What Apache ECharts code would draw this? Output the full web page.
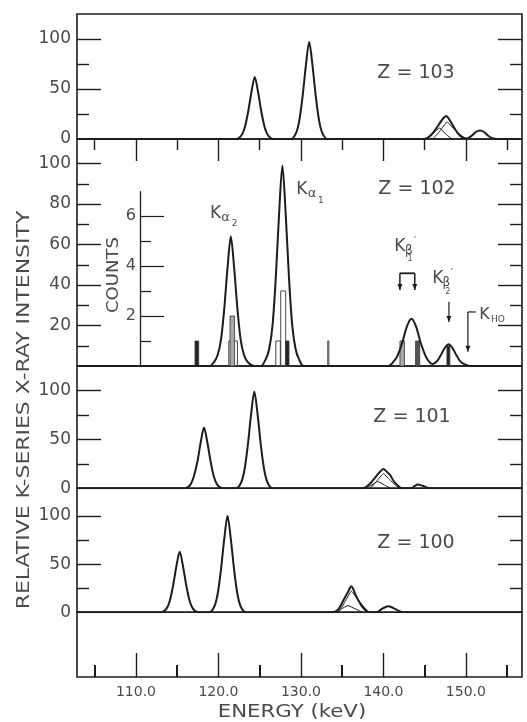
<!DOCTYPE html>
<html>
<head>
<meta charset="utf-8">
<title>Relative K-series X-ray intensity</title>
<script src="https://cdn.jsdelivr.net/npm/echarts@6.0.0/dist/echarts.min.js"></script>
<style>
html,body{margin:0;padding:0;background:#fff;}
#chart{width:527px;height:722px;}
</style>
</head>
<body>
<div id="chart"></div>
<script>
// ---------------- values ----------------
const energyTicksMajor = [110, 120, 130, 140, 150];
const energyTicksHalf = [105, 115, 125, 135, 145, 155];
const intensityLabelsStd = [0, 50, 100];
const intensityMajorStd = [50, 100];
const intensityMinorStd = [25, 75];
const intensityLabelsZ102 = [20, 40, 60, 80, 100];
const intensityMinorZ102 = [10, 30, 50, 70, 90];
const countLabels = [2, 4, 6];
const countMinor = [1, 3, 5];
const panelNames = ['Z = 103', 'Z = 102', 'Z = 101', 'Z = 100'];

// total spectra: [energy keV, relative intensity]
const z103Total = [[102.85,0],[122.2,0],[122.8,3.7],[123.2,11.8],[123.6,27.3],[124.0,47],[124.4,62],[124.8,47],[125.2,27.3],[125.6,11.8],[126.0,3.7],[126.6,0],
  [128.8,0],[129.4,5.8],[129.8,18.4],[130.2,42.7],[130.6,73.7],[131.0,97],[131.4,73.7],[131.8,42.7],[132.2,18.4],[132.6,5.8],[133.2,0],
  [144.8,0],[145.4,1.5],[146.0,6],[146.6,13],[147.1,19],[147.6,23],[148.1,18],[148.6,11],[149.1,5],[149.6,1.5],[150.1,0.5],
  [150.7,3.3],[151.2,7],[151.7,8.6],[152.2,7],[152.7,3.3],[153.3,0.5],[153.8,0],[156.8,0]];
const z103CompA = [[145.2,0],[146.0,5.5],[146.8,11],[147.6,4.5],[148.3,0]];
const z103CompB = [[146.0,0],[146.9,8.5],[147.7,17],[148.9,7],[150.0,0]];

const z102Total = [[102.85,0],[118.9,0],[119.5,2.2],[119.9,5.4],[120.3,12.8],[120.7,28.2],[121.1,48.6],[121.5,64],[121.9,48.6],[122.3,28.2],[122.7,12.8],[123.1,5.4],[123.5,2.2],[124.1,0.3],[124.6,0],
  [125.15,0],[125.75,3.5],[126.15,8.4],[126.55,19.8],[126.95,43.6],[127.35,75.2],[127.75,99],[128.15,75.2],[128.55,43.6],[128.95,19.8],[129.35,8.4],[129.75,3.5],[130.35,0],
  [140.6,0],[141.2,2],[141.7,5],[142.3,11.7],[142.85,19.6],[143.4,23.4],[143.95,19.6],[144.5,11.7],[145.1,5],[145.6,1.8],[146.0,1.0],
  [146.5,2.4],[146.95,5.35],[147.45,9],[147.9,10.7],[148.35,9],[148.85,5.35],[149.3,2.4],[149.8,0.9],[150.5,0],[156.8,0]];
// counting histogram: [from keV, to keV, counts, kind(0 open,1 dark,2 light shade,3 dark shade)]
const z102Counts = [[117.15,117.6,1,1],[121.25,122.3,1,0],[121.4,121.95,2,2],[126.95,127.5,1,0],[127.55,128.15,3,0],[128.15,128.55,1,1],
  [133.25,133.38,1,0],[142.0,142.55,1,2],[143.9,144.4,1,3],[147.7,148.05,0.8,1]];

const z101Total = [[102.85,0],[116.0,0],[116.6,3.7],[117.0,11.8],[117.45,27.3],[117.85,47],[118.25,62],[118.65,47],[119.05,27.3],[119.45,11.8],[119.85,3.7],[120.45,0],
  [122.15,0],[122.75,5.9],[123.15,18.7],[123.55,43.3],[123.95,74.9],[124.35,98.5],[124.75,74.9],[125.15,43.3],[125.55,18.7],[125.95,5.9],[126.55,0],
  [137.5,0],[138.4,5],[139.0,11],[139.5,16],[140.0,19.7],[140.4,17],[140.8,13.6],[141.2,8],[141.6,4],[142.2,0],
  [143.4,0],[143.8,2.5],[144.2,4],[144.6,3],[145.0,1.7],[145.6,0],[156.8,0]];
const z101CompA = [[137.9,0],[138.6,3.5],[139.3,7],[140.1,3.5],[140.9,0]];
const z101CompB = [[138.4,0],[139.2,7.5],[140.0,15],[140.9,7.5],[141.9,0]];

const z100Total = [[102.85,0],[113.1,0],[113.7,3.8],[114.1,12],[114.5,27.7],[114.9,47.9],[115.3,63],[115.7,47.9],[116.1,27.7],[116.5,12],[116.9,3.8],[117.5,0],
  [118.9,0],[119.5,6],[119.9,19],[120.3,44],[120.7,76],[121.1,100],[121.5,76],[121.9,44],[122.3,19],[122.7,6],[123.3,0],
  [133.7,0],[134.5,2.8],[135.3,14.9],[135.7,21],[136.1,27],[136.7,16.6],[137.4,6.2],[138.0,1],[138.4,0],
  [139.2,0],[139.8,3.5],[140.2,5.3],[140.6,6.2],[141.0,5.3],[141.4,3.5],[142.4,0],[156.8,0]];
const z100CompA = [[134.0,0],[134.9,3.5],[135.7,7],[136.6,3.5],[137.5,0]];
const z100CompB = [[134.6,0],[135.35,11],[136.1,22],[137.1,11],[138.2,0]];

// ---------------- layout / style ----------------
const E_MIN = 102.85, E_MAX = 156.8;      // energy span of the frame
const COUNT_E_MIN = 110.485;              // energy at the inner COUNTS axis
const INK = '#1c1c1c', TXT = '#4a4a4a', FONT = 'DejaVu Sans';

const grid = [
  {left:77, right:5, top:14, height:125},
  {left:77, right:5, top:139, height:227},
  {left:77, right:5, top:366, height:122.3},
  {left:77, right:5, top:488.3, height:124},
  {left:77, right:5, top:612.3, height:64.7},
  {left:140, right:5, top:191.7, height:174.3, show:false}
].map(g => Object.assign({show:true, borderColor:INK, borderWidth:1.6, backgroundColor:'transparent'}, g));

const tickStyle = {color: INK, width: 1.4};
const xAxis = [];
function xa(gi, opts) {
  xAxis.push(Object.assign({type:'value', gridIndex:gi, min:E_MIN, max:E_MAX,
    axisLine:{show:false}, splitLine:{show:false}, axisTick:{show:false}, axisLabel:{show:false}}, opts));
  return xAxis.length - 1;
}
const xMain = [0,1,2,3,4].map(gi => xa(gi, {}));
xa(0, {position:'top', axisTick:{show:true, inside:true, length:22, customValues:energyTicksMajor, lineStyle:tickStyle}});
xa(0, {position:'top', axisTick:{show:true, inside:true, length:11, customValues:energyTicksHalf, lineStyle:tickStyle}});
xa(4, {position:'bottom', axisTick:{show:true, inside:true, length:24, customValues:energyTicksMajor, lineStyle:tickStyle},
  axisLabel:{show:true, customValues:energyTicksMajor, formatter: v => Number(v).toFixed(1), fontFamily:FONT, fontSize:14, color:TXT, margin:8}});
xa(4, {position:'bottom', axisTick:{show:true, inside:true, length:12, customValues:energyTicksHalf, lineStyle:{color:INK, width:2}}});
const xCounts = xa(5, {min:COUNT_E_MIN});

const yAxis = [];
function ya(gi, min, max, opts) {
  yAxis.push(Object.assign({type:'value', gridIndex:gi, min:min, max:max,
    axisLine:{show:false}, splitLine:{show:false}, axisTick:{show:false}, axisLabel:{show:false}}, opts));
  return yAxis.length - 1;
}
const panelMax = [125, 112.15, 124.8, 128.8];
const panelLabels = [intensityLabelsStd, intensityLabelsZ102, intensityLabelsStd, intensityLabelsStd];
const panelMajor = [intensityMajorStd, intensityLabelsZ102, intensityMajorStd, intensityMajorStd];
const panelMinor = [intensityMinorStd, intensityMinorZ102, intensityMinorStd, intensityMinorStd];
const yMain = [];
for (let i = 0; i < 4; i++) {
  yMain.push(ya(i, 0, panelMax[i], {position:'left',
    axisTick:{show:true, inside:true, length:24, customValues:panelMajor[i], lineStyle:tickStyle},
    axisLabel:{show:true, customValues:panelLabels[i], fontFamily:FONT, fontSize:17, color:TXT, margin:6}}));
  ya(i, 0, panelMax[i], {position:'left', axisTick:{show:true, inside:true, length:12, customValues:panelMinor[i], lineStyle:tickStyle}});
  ya(i, 0, panelMax[i], {position:'right', axisTick:{show:true, inside:true, length:24, customValues:panelMajor[i], lineStyle:tickStyle}});
  ya(i, 0, panelMax[i], {position:'right', axisTick:{show:true, inside:true, length:12, customValues:panelMinor[i], lineStyle:tickStyle}});
}
ya(4, 0, 1, {});
const yCounts = ya(5, 0, 6.97, {position:'left', axisLine:{show:true, lineStyle:{color:INK, width:1.3}},
  axisTick:{show:true, inside:true, length:24, customValues:countLabels, lineStyle:{color:INK, width:1.2}},
  axisLabel:{show:true, customValues:countLabels, fontFamily:FONT, fontSize:16, color:TXT, margin:4}});
ya(5, 0, 6.97, {position:'left', axisTick:{show:true, inside:true, length:11, customValues:countMinor, lineStyle:{color:INK, width:1.2}}});

const series = [];
function curve(gi, data, w, sm) {
  series.push({type:'line', xAxisIndex:xMain[gi], yAxisIndex:yMain[gi], data:data, smooth:sm,
    symbol:'none', lineStyle:{color:INK, width:w}, z:3, silent:true});
  return series.length - 1;
}
curve(0, z103Total, 2, 0.3); curve(0, z103CompA, 1, 0.1); curve(0, z103CompB, 1, 0.1);
const s102 = curve(1, z102Total, 2, 0.3);
curve(2, z101Total, 2, 0.3); curve(2, z101CompA, 1, 0.1); curve(2, z101CompB, 1, 0.1);
curve(3, z100Total, 2, 0.3); curve(3, z100CompA, 1, 0.1); curve(3, z100CompB, 1, 0.1);
const barFills = ['rgba(0,0,0,0)', '#262626', '#a9a9a9', '#555555'];
series.push({type:'custom', xAxisIndex:xCounts, yAxisIndex:yCounts, data:z102Counts, encode:{x:[0,1], y:2}, z:1, silent:true,
  renderItem: function (params, api) {
    const a = api.coord([api.value(0), api.value(2)]);
    const b = api.coord([api.value(1), 0]);
    const kind = api.value(3);
    return {type:'rect', shape:{x:a[0], y:a[1], width:Math.max(b[0]-a[0], 1), height:b[1]-a[1]},
      style:{fill:barFills[kind], stroke: kind === 0 ? '#444' : '#333', lineWidth: kind === 0 ? 1 : 0.8}};
  }});

const chart = echarts.init(document.getElementById('chart'), null, {renderer:'canvas', width:527, height:722});
chart.setOption({animation:false, backgroundColor:'#fff', grid:grid, xAxis:xAxis, yAxis:yAxis, series:series});

// ---------------- annotations ----------------
function txt(x, y, s, size, extra) {
  return Object.assign({type:'text', x:x, y:y, z:10, silent:true,
    style:{text:s, font:size + 'px "' + FONT + '"', fill:TXT, align:'center', verticalAlign:'middle',
      textAlign:'center', textVerticalAlign:'middle'}}, extra || {});
}
function seg(p, q, w) { return {type:'line', z:10, silent:true, shape:{x1:p[0], y1:p[1], x2:q[0], y2:q[1]}, style:{stroke:INK, lineWidth:w || 1.2}}; }
function headDown(p) { return {type:'polygon', z:10, silent:true, shape:{points:[[p[0]-2.5, p[1]-6], [p[0]+2.5, p[1]-6], [p[0], p[1]]]}, style:{fill:INK}}; }
function at(e, v) { return chart.convertToPixel({seriesIndex:s102}, [e, v]); }

const gr = [];
[[416,73],[417,189],[412,417],[416,543]].forEach((p, i) => gr.push(txt(p[0], p[1], panelNames[i], 19)));
gr.push(txt(25, 410, 'RELATIVE K-SERIES X-RAY INTENSITY', 17, {rotation:Math.PI/2, scaleX:1.29}));
gr.push(txt(292, 713, 'ENERGY (keV)', 17, {scaleX:1.25}));
gr.push(txt(114, 275, 'COUNTS', 16, {rotation:Math.PI/2, scaleX:1.13}));

let p = at(119.64, 75.3);
gr.push(txt(p[0], p[1], 'K', 17), txt(p[0]+10, p[1]+4, 'α', 13), txt(p[0]+19, p[1]+10.5, '2', 9));
p = at(130.12, 87.0);
gr.push(txt(p[0], p[1], 'K', 17), txt(p[0]+10, p[1]+4, 'α', 13), txt(p[0]+19, p[1]+10.5, '1', 9));
p = at(142.0, 58.8);
gr.push(txt(p[0], p[1], 'K', 17), txt(p[0]+9, p[1]+4, 'β', 12), txt(p[0]+10, p[1]+11.5, '1', 8), txt(p[0]+15, p[1]-6, '′', 11));
p = at(146.6, 43.0);
gr.push(txt(p[0], p[1], 'K', 17), txt(p[0]+8.5, p[1]+4, 'β', 12), txt(p[0]+10, p[1]+12.5, '2', 8), txt(p[0]+14, p[1]-6, '′', 11));
p = at(152.24, 25.2);
gr.push(txt(p[0], p[1], 'K', 16), txt(p[0]+13.5, p[1]+4.5, 'HO', 9));

const bA = at(142.0, 45.8), bB = at(143.8, 45.8), bA2 = at(142.0, 37.6), bB2 = at(143.8, 37.6);
gr.push(seg(bA, bB, 1.8), seg(bA, bA2, 1.5), seg(bB, bB2, 1.5), headDown(bA2), headDown(bB2));
const k2a = at(147.94, 31.7), k2b = at(147.94, 21.8);
gr.push(seg(k2a, k2b), headDown(k2b));
const hTop = at(150.24, 26.7), hBot = at(150.24, 7), hStub = at(151.2, 26.7);
gr.push(seg(hTop, hBot), seg(hTop, hStub), headDown(hBot));

chart.setOption({graphic: gr});
</script>
</body>
</html>
